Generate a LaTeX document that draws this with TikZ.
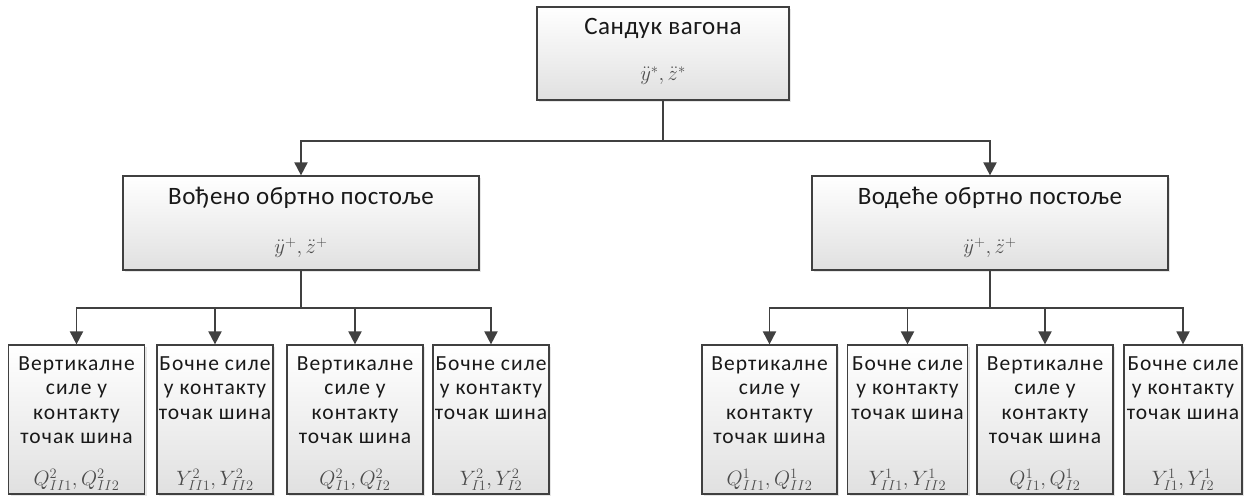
\documentclass[tikz,border=0pt]{standalone}
\usepackage{fontspec}
\setmainfont{Carlito}
\usetikzlibrary{arrows.meta,shadows}

\newcommand\vertsile{Вертикалне\\силе у\\контакту\\точак шина}
\newcommand\bocsile{Бочне силе\\у контакту\\точак шина}

\tikzset{
  blok/.style={draw=black!75, line width=1.2pt, top color=white, bottom color=black!12,
    drop shadow={shadow xshift=2pt, shadow yshift=-2pt, opacity=0.2}, inner sep=0pt},
  veza/.style={draw=black!75, line width=1.9pt, -{Triangle[width=13pt,length=13pt]}},
  naslov/.style={font=\fontsize{25}{29}\selectfont\addfontfeatures{LetterSpace=2}, text=black!90, anchor=base, inner sep=0pt},
  opis/.style={font=\fontsize{21.5}{24.5}\selectfont\addfontfeatures{LetterSpace=5}, text=black!90, align=center, anchor=north, inner sep=0pt},
  izraz/.style={font=\fontsize{20}{24}\selectfont, text=black!70, anchor=base, inner sep=0pt},
  ubrz/.style={izraz, font=\fontsize{22}{26}\selectfont},
}

\begin{document}
\begin{tikzpicture}[x=1pt,y=-1pt]
  \useasboundingbox (0,0) rectangle (1248,497);

  % sanduk
  \node[blok, minimum width=252, minimum height=93] (sanduk) at (663,53.5) {};
  \node[naslov] (sanduk t) at ([yshift=-28pt]sanduk.north) {Сандук вагона};
  \node[ubrz] (sanduk m) at ([yshift=20pt]sanduk.south) {$\ddot{y}^{*},\ddot{z}^{*}$};

  % obrtna postolja
  \node[blok, minimum width=356, minimum height=94] (vodjeno) at (301,223) {};
  \node[naslov] (vodjeno t) at ([yshift=-29pt]vodjeno.north) {Вођено обртно постоље};
  \node[ubrz] (vodjeno m) at ([yshift=17pt]vodjeno.south) {$\ddot{y}^{+},\ddot{z}^{+}$};
  \node[blok, minimum width=356, minimum height=94] (vodece) at (990,223) {};
  \node[naslov] (vodece t) at ([yshift=-29pt]vodece.north) {Водеће обртно постоље};
  \node[ubrz] (vodece m) at ([yshift=17pt]vodece.south) {$\ddot{y}^{+},\ddot{z}^{+}$};

  \draw[veza] (sanduk.south) -- ++(0,40) -| (vodjeno.north);
  \draw[veza] (sanduk.south) -- ++(0,40) -| (vodece.north);

  % sile u kontaktu
  \foreach \ime/\rod/\x/\w/\opis/\izr in {
    s1/vodjeno/76.5/136/\vertsile/{Q^2_{II1},Q^2_{II2}},
    s2/vodjeno/215/116/\bocsile/{Y^2_{II1},Y^2_{II2}},
    s3/vodjeno/355/136/\vertsile/{Q^2_{I1},Q^2_{I2}},
    s4/vodjeno/491/116/\bocsile/{Y^2_{I1},Y^2_{I2}},
    s5/vodece/769.5/135/\vertsile/{Q^1_{II1},Q^1_{II2}},
    s6/vodece/907.5/120/\bocsile/{Y^1_{II1},Y^1_{II2}},
    s7/vodece/1045/136/\vertsile/{Q^1_{I1},Q^1_{I2}},
    s8/vodece/1183/118/\bocsile/{Y^1_{I1},Y^1_{I2}}}{
    \node[blok, minimum width=\w, minimum height=149] (\ime) at (\x,419.5) {};
    \node[opis] (\ime t) at ([yshift=-12pt]\ime.north) {\opis};
    \node[izraz] (\ime m) at ([yshift=9pt]\ime.south) {$\izr$};
    \draw[veza] (\rod.south) -- ++(0,37) -| (\ime.north);
  }
\end{tikzpicture}
\end{document}
